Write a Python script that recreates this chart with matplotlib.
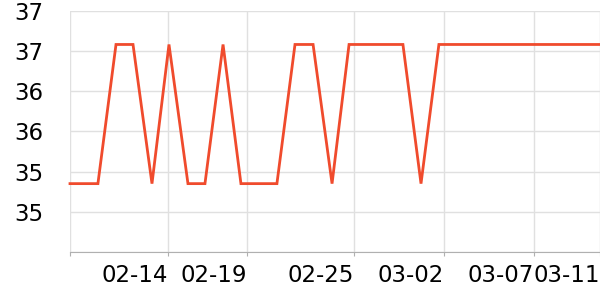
import numpy as np
import matplotlib
matplotlib.use('Agg')
from matplotlib import pyplot as plt

# time in days from the first reading, temperature readings
days = [0.0, 1.56, 2.57, 3.52, 4.58, 5.53, 6.59, 7.54, 8.55, 9.55, 11.56,
        12.57, 13.58, 14.64, 15.59, 18.6, 19.61, 20.61, 29.61]
temps = [34.85, 34.85, 36.58, 36.58, 34.85, 36.58, 34.85, 34.85, 36.58, 34.85,
         34.85, 36.58, 36.58, 34.85, 36.58, 36.58, 34.85, 36.58, 36.58]

tick_days = [0.0, 5.47, 9.89, 15.87, 20.89, 25.92, 29.61]
tick_labels = ['', '02-14', '02-19', '02-25', '03-02', '03-07', '03-11']
y_ticks = [34.0, 34.5, 35.0, 35.5, 36.0, 36.5, 37.0]
y_labels = ['', '35', '35', '36', '36', '37', '37']

fig = plt.figure(figsize=(6, 3), dpi=100)
ax = fig.add_axes([70/600, 48/300, 530/600, 241.3/300])
ax.plot(days, temps, color='#f04b2d', lw=2, solid_joinstyle='miter', clip_on=False)

ax.set_xlim(days[0], days[-1])
ax.set_ylim(34.0, 37.0)
ax.set_xticks(tick_days)
ax.set_xticklabels(tick_labels, ha='right', fontsize=16.5)
ax.set_yticks(y_ticks)
ax.set_yticklabels(y_labels, fontsize=16.5)

ax.grid(True, color='#e0e0e0', lw=1)
ax.set_axisbelow(True)
for s in ['top', 'right', 'left']:
    ax.spines[s].set_visible(False)
ax.spines['bottom'].set_color('#b0b0b0')
ax.tick_params(axis='x', length=3, color='#b0b0b0', pad=6)
ax.tick_params(axis='y', length=0, pad=19)

fig.savefig('out.png', dpi=100)
